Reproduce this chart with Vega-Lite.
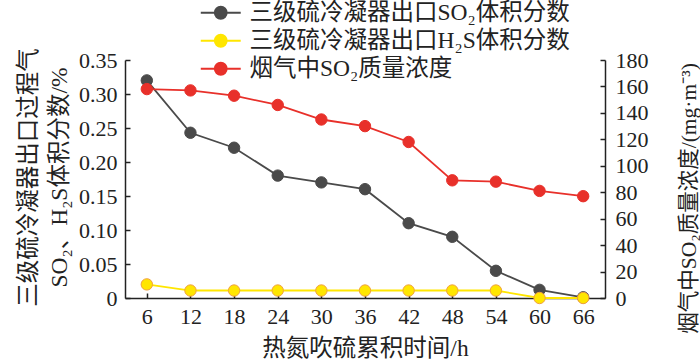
{
  "$schema": "https://vega.github.io/schema/vega-lite/v6.json",
  "autosize": {"type": "none"},
  "padding": {"left": 125, "top": 60, "right": 95, "bottom": 66},
  "width": 480,
  "height": 238,
  "background": "white",
  "config": {
    "view": {"stroke": null},
    "font": "Liberation Serif, Noto Sans CJK SC",
    "axis": {
      "grid": false,
      "domainColor": "#222",
      "domainWidth": 1.5,
      "tickColor": "#222",
      "tickWidth": 1.5,
      "labelFont": "Liberation Serif",
      "labelFontSize": 22,
      "labelColor": "#222",
      "titleFont": "Liberation Serif, Noto Sans CJK SC",
      "titleFontSize": 23.5,
      "titleFontWeight": "normal",
      "titleColor": "#222"
    }
  },
  "datasets": {
    "left": [
      {"t": 6, "series": "三级硫冷凝器出口SO₂体积分数", "v": 0.32},
      {"t": 12, "series": "三级硫冷凝器出口SO₂体积分数", "v": 0.243},
      {"t": 18, "series": "三级硫冷凝器出口SO₂体积分数", "v": 0.221},
      {"t": 24, "series": "三级硫冷凝器出口SO₂体积分数", "v": 0.18},
      {"t": 30, "series": "三级硫冷凝器出口SO₂体积分数", "v": 0.17},
      {"t": 36, "series": "三级硫冷凝器出口SO₂体积分数", "v": 0.16},
      {"t": 42, "series": "三级硫冷凝器出口SO₂体积分数", "v": 0.11},
      {"t": 48, "series": "三级硫冷凝器出口SO₂体积分数", "v": 0.09},
      {"t": 54, "series": "三级硫冷凝器出口SO₂体积分数", "v": 0.04},
      {"t": 60, "series": "三级硫冷凝器出口SO₂体积分数", "v": 0.012},
      {"t": 66, "series": "三级硫冷凝器出口SO₂体积分数", "v": 0.001},
      {"t": 6, "series": "三级硫冷凝器出口H₂S体积分数", "v": 0.02},
      {"t": 12, "series": "三级硫冷凝器出口H₂S体积分数", "v": 0.011},
      {"t": 18, "series": "三级硫冷凝器出口H₂S体积分数", "v": 0.011},
      {"t": 24, "series": "三级硫冷凝器出口H₂S体积分数", "v": 0.011},
      {"t": 30, "series": "三级硫冷凝器出口H₂S体积分数", "v": 0.011},
      {"t": 36, "series": "三级硫冷凝器出口H₂S体积分数", "v": 0.011},
      {"t": 42, "series": "三级硫冷凝器出口H₂S体积分数", "v": 0.011},
      {"t": 48, "series": "三级硫冷凝器出口H₂S体积分数", "v": 0.011},
      {"t": 54, "series": "三级硫冷凝器出口H₂S体积分数", "v": 0.011},
      {"t": 60, "series": "三级硫冷凝器出口H₂S体积分数", "v": 0.0},
      {"t": 66, "series": "三级硫冷凝器出口H₂S体积分数", "v": 0.0}
    ],
    "right": [
      {"t": 6, "series": "烟气中SO₂质量浓度", "v": 158},
      {"t": 12, "series": "烟气中SO₂质量浓度", "v": 157},
      {"t": 18, "series": "烟气中SO₂质量浓度", "v": 153},
      {"t": 24, "series": "烟气中SO₂质量浓度", "v": 146},
      {"t": 30, "series": "烟气中SO₂质量浓度", "v": 135},
      {"t": 36, "series": "烟气中SO₂质量浓度", "v": 130},
      {"t": 42, "series": "烟气中SO₂质量浓度", "v": 118},
      {"t": 48, "series": "烟气中SO₂质量浓度", "v": 89},
      {"t": 54, "series": "烟气中SO₂质量浓度", "v": 88},
      {"t": 60, "series": "烟气中SO₂质量浓度", "v": 81},
      {"t": 66, "series": "烟气中SO₂质量浓度", "v": 77}
    ]
  },
  "layer": [
    {
      "data": {"name": "left"},
      "encoding": {
        "x": {"field": "t", "type": "quantitative", "scale": {"domain": [3, 69], "nice": false, "zero": false},
          "axis": {"values": [6, 12, 18, 24, 30, 36, 42, 48, 54, 60, 66], "tickSize": -5, "labelPadding": 13, "title": "热氮吹硫累积时间/h", "titleY": 50, "titleBaseline": "middle"}},
        "y": {"field": "v", "type": "quantitative", "scale": {"domain": [0, 0.35], "nice": false},
          "axis": {"orient": "left", "values": [0, 0.05, 0.1, 0.15, 0.2, 0.25, 0.3, 0.35], "labelExpr": "datum.value == 0 ? '0' : format(datum.value, '.2f')", "tickSize": -5, "labelPadding": 13,
            "title": ["三级硫冷凝器出口过程气", "SO₂、H₂S体积分数/%"], "titleX": -97, "titleY": 117, "titleBaseline": "middle", "titleLineHeight": 31}}
      },
      "layer": [
        {"mark": {"type": "line", "strokeWidth": 1.8},
          "encoding": {"color": {"field": "series", "type": "nominal",
            "scale": {"domain": ["三级硫冷凝器出口SO₂体积分数", "三级硫冷凝器出口H₂S体积分数", "烟气中SO₂质量浓度"], "range": ["#4a4a4a", "#ffe600", "#e8302a"]},
            "legend": {"orient": "none", "legendX": 84, "legendY": -59, "title": null,
              "symbolType": "M-3.33,0L-1,0M1,0L3.33,0M1,0A1,1,0,1,1,-1,0A1,1,0,1,1,1,0Z", "symbolSize": 144, "symbolStrokeWidth": 1.8,
              "labelOffset": 17, "labelFontSize": 23.5, "labelFont": "Liberation Serif, Noto Sans CJK SC", "labelColor": "#222", "rowPadding": 3, "padding": 0, "labelLimit": 600,
              "encode": {"symbols": {"update": {"fill": {"scale": "color", "field": "value"}, "stroke": {"scale": "color", "field": "value"}, "opacity": {"value": 1}}}}}}}},
        {"mark": {"type": "circle", "size": 130, "strokeWidth": 1, "opacity": 1},
          "encoding": {
            "fill": {"field": "series", "type": "nominal", "scale": {"domain": ["三级硫冷凝器出口SO₂体积分数", "三级硫冷凝器出口H₂S体积分数", "烟气中SO₂质量浓度"], "range": ["#4a4a4a", "#ffe600", "#e8302a"]}, "legend": null},
            "stroke": {"field": "series", "type": "nominal", "scale": {"domain": ["三级硫冷凝器出口SO₂体积分数", "三级硫冷凝器出口H₂S体积分数", "烟气中SO₂质量浓度"], "range": ["#4a4a4a", "#f0a040", "#e8302a"]}, "legend": null}}}
      ]
    },
    {
      "data": {"name": "right"},
      "encoding": {
        "x": {"field": "t", "type": "quantitative", "scale": {"domain": [3, 69], "nice": false, "zero": false},
          "axis": {"values": [6, 12, 18, 24, 30, 36, 42, 48, 54, 60, 66], "tickSize": -5, "labelPadding": 13, "title": "热氮吹硫累积时间/h", "titleY": 50, "titleBaseline": "middle"}},
        "y": {"field": "v", "type": "quantitative", "scale": {"domain": [0, 180], "nice": false},
          "axis": {"orient": "right", "values": [0, 20, 40, 60, 80, 100, 120, 140, 160, 180], "tickSize": -5, "labelPadding": 15,
            "title": "烟气中SO₂质量浓度/(mg·m⁻³)", "titleFontSize": 21.5, "titleAngle": -90, "titleX": 84, "titleY": 138, "titleBaseline": "middle"}}
      },
      "layer": [
        {"mark": {"type": "line", "strokeWidth": 1.8},
          "encoding": {"color": {"field": "series", "type": "nominal",
            "scale": {"domain": ["三级硫冷凝器出口SO₂体积分数", "三级硫冷凝器出口H₂S体积分数", "烟气中SO₂质量浓度"], "range": ["#4a4a4a", "#ffe600", "#e8302a"]},
            "legend": {"orient": "none", "legendX": 84, "legendY": -59, "title": null,
              "symbolType": "M-3.33,0L-1,0M1,0L3.33,0M1,0A1,1,0,1,1,-1,0A1,1,0,1,1,1,0Z", "symbolSize": 144, "symbolStrokeWidth": 1.8,
              "labelOffset": 17, "labelFontSize": 23.5, "labelFont": "Liberation Serif, Noto Sans CJK SC", "labelColor": "#222", "rowPadding": 3, "padding": 0, "labelLimit": 600,
              "encode": {"symbols": {"update": {"fill": {"scale": "color", "field": "value"}, "stroke": {"scale": "color", "field": "value"}, "opacity": {"value": 1}}}}}}}},
        {"mark": {"type": "circle", "size": 130, "strokeWidth": 1, "opacity": 1},
          "encoding": {
            "fill": {"field": "series", "type": "nominal", "scale": {"domain": ["三级硫冷凝器出口SO₂体积分数", "三级硫冷凝器出口H₂S体积分数", "烟气中SO₂质量浓度"], "range": ["#4a4a4a", "#ffe600", "#e8302a"]}, "legend": null},
            "stroke": {"field": "series", "type": "nominal", "scale": {"domain": ["三级硫冷凝器出口SO₂体积分数", "三级硫冷凝器出口H₂S体积分数", "烟气中SO₂质量浓度"], "range": ["#4a4a4a", "#f0a040", "#e8302a"]}, "legend": null}}}
      ]
    }
  ],
  "resolve": {"scale": {"y": "independent"}}
}
